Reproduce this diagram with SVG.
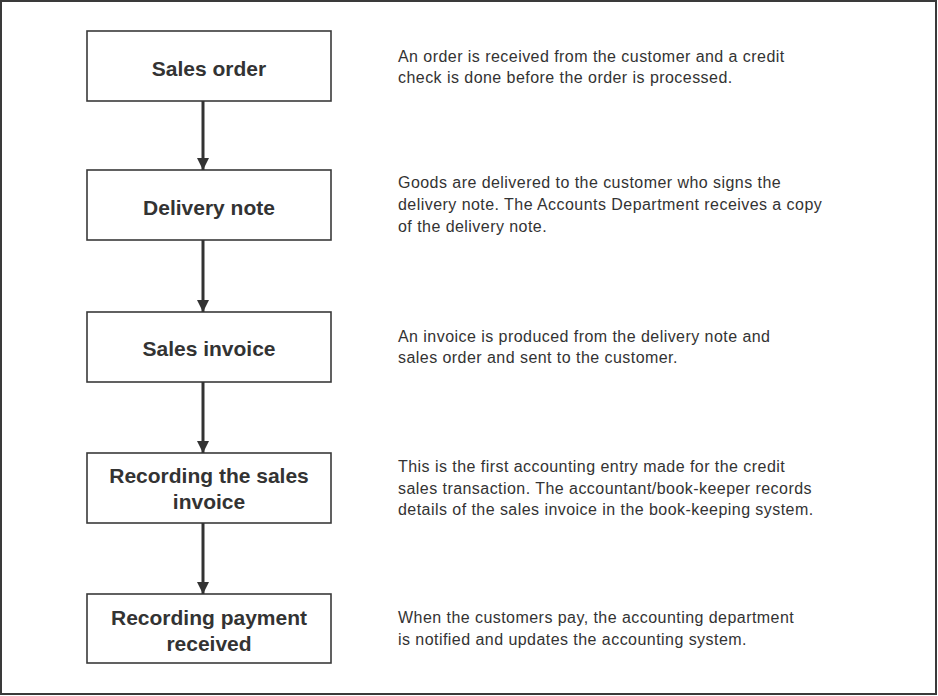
<svg xmlns="http://www.w3.org/2000/svg" width="938" height="696" viewBox="0 0 938 696">
<defs>
<style>
.frame{fill:#fff;stroke:#3a3a3a;stroke-width:2}
.box{fill:#fff;stroke:#3a3a3a;stroke-width:1.6}
.lbl{font-family:"Liberation Sans",Arial,sans-serif;font-weight:bold;font-size:21px;fill:#333;text-anchor:middle}
.desc{font-family:"Liberation Sans",Arial,sans-serif;font-size:16px;letter-spacing:0.45px;fill:#333}
.edge{stroke:#333;stroke-width:3;fill:none}
</style>
<marker id="ah" viewBox="0 0 12 17" refX="12" refY="8.5" markerWidth="12" markerHeight="17" markerUnits="userSpaceOnUse" orient="auto">
<path d="M0,2.5 L12,8.5 L0,14.5 z" fill="#333"/>
</marker>
</defs>
<rect class="frame" x="1" y="1" width="935" height="693"/>
<g id="n1"><rect class="box" x="87" y="31" width="244" height="70"/><text class="lbl" x="209" y="76">Sales order</text></g>
<g id="n2"><rect class="box" x="87" y="170" width="244" height="70"/><text class="lbl" x="209" y="215">Delivery note</text></g>
<g id="n3"><rect class="box" x="87" y="312" width="244" height="70"/><text class="lbl" x="209" y="356">Sales invoice</text></g>
<g id="n4"><rect class="box" x="87" y="453" width="244" height="70"/><text class="lbl" x="209" y="483">Recording the sales</text><text class="lbl" x="209" y="509">invoice</text></g>
<g id="n5"><rect class="box" x="87" y="594" width="244" height="69"/><text class="lbl" x="209" y="625">Recording payment</text><text class="lbl" x="209" y="651">received</text></g>
<g id="connectors">
<line class="edge" x1="203" y1="101" x2="203" y2="170" marker-end="url(#ah)"/>
<line class="edge" x1="203" y1="240" x2="203" y2="312" marker-end="url(#ah)"/>
<line class="edge" x1="203" y1="382" x2="203" y2="453" marker-end="url(#ah)"/>
<line class="edge" x1="203" y1="523" x2="203" y2="594" marker-end="url(#ah)"/>
</g>
<g id="d1"><text class="desc" x="398" y="62">An order is received from the customer and a credit</text><text class="desc" x="398" y="83">check is done before the order is processed.</text></g>
<g id="d2"><text class="desc" x="398" y="188">Goods are delivered to the customer who signs the</text><text class="desc" x="398" y="210">delivery note. The Accounts Department receives a copy</text><text class="desc" x="398" y="232">of the delivery note.</text></g>
<g id="d3"><text class="desc" x="398" y="342">An invoice is produced from the delivery note and</text><text class="desc" x="398" y="363">sales order and sent to the customer.</text></g>
<g id="d4"><text class="desc" x="398" y="472">This is the first accounting entry made for the credit</text><text class="desc" x="398" y="494">sales transaction. The accountant/book-keeper records</text><text class="desc" x="398" y="515">details of the sales invoice in the book-keeping system.</text></g>
<g id="d5"><text class="desc" x="398" y="623">When the customers pay, the accounting department</text><text class="desc" x="398" y="645">is notified and updates the accounting system.</text></g>
</svg>
